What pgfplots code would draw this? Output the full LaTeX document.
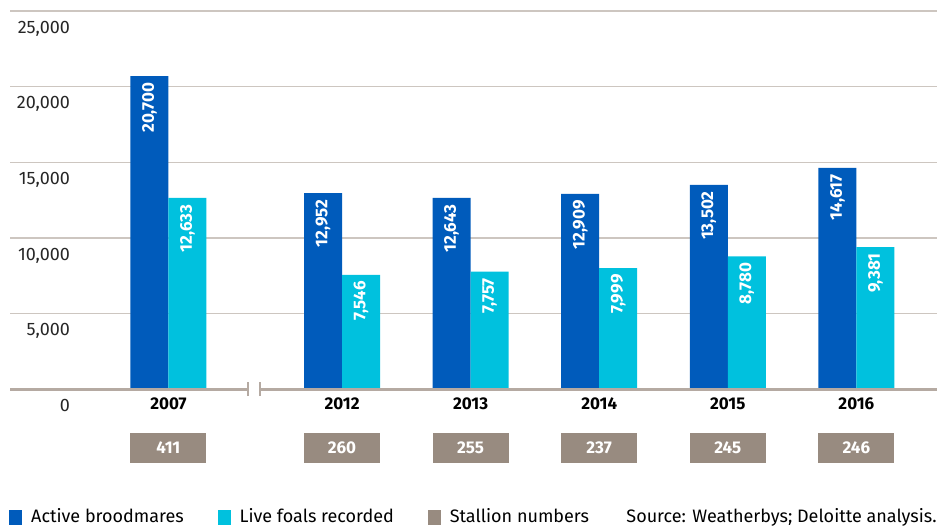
\documentclass[border=0pt]{standalone}
\usepackage{fontspec}
\setmainfont{Fira Sans}
\usepackage{pgfplots}
\pgfplotsset{compat=1.18}
\definecolor{cblue}{RGB}{0,91,187}
\definecolor{ccyan}{RGB}{0,193,222}
\definecolor{cgrey}{RGB}{152,139,128}
\definecolor{cgrid}{RGB}{205,198,192}
\definecolor{czero}{RGB}{181,170,162}
\newcommand\fs{\fontsize{9}{10}\selectfont}
\newcommand\fb{\bfseries\fontsize{8.5}{10}\selectfont}
\begin{document}
\begin{tikzpicture}
\begin{axis}[
  name=ax, at={(0pt,0pt)}, anchor=south west,
  scale only axis, width=463.5pt, height=189pt,
  xmin=-1.582, xmax=5.627, ymin=0, ymax=25000,
  clip=false,
  axis line style={draw=none},
  major tick length=0pt,
  ymajorgrids, grid style={cgrid, line width=0.7pt},
  ytick={0,5000,10000,15000,20000,25000},
  scaled y ticks=false,
  /pgf/number format/1000 sep={,},
  /pgf/number format/assume math mode=true,
  yticklabel style={font=\fs, anchor=north east, xshift=33.5pt, yshift=-1.5pt, text=black!85},
  xtick={-0.35,1,2,3,4,5},
  xticklabels={2007,2012,2013,2014,2015,2016},
  xticklabel style={font=\fb, yshift=-1pt},
  legend style={at={(0,-0.339)}, xshift=-0.5pt, anchor=west, draw=none, fill=none, inner sep=0pt,
    font=\fs, /tikz/every even column/.append style={column sep=15pt}},
  legend columns=3,
  legend cell align=left,
  valnode/.style={nodes near coords,
    every node near coord/.append style={font=\fb, text=white, inner sep=0pt, yshift=-3pt, rotate=90, anchor=east}},
]
% Active broodmares (bar centres = category - 0.1478)
\addplot[ybar, forget plot, bar width=19pt, bar shift=0pt, fill=cblue, draw=none, valnode]
  coordinates {(-0.4978,20700) (0.8522,12952) (1.8522,12643) (2.8522,12909) (3.8522,13502) (4.8522,14617)};
% Live foals recorded (bar centres = category + 0.1478)
\addplot[ybar, forget plot, bar width=19pt, bar shift=0pt, fill=ccyan, draw=none, valnode]
  coordinates {(-0.2022,12633) (1.1478,7546) (2.1478,7757) (3.1478,7999) (4.1478,8780) (5.1478,9381)};
% Stallion numbers
\addplot[forget plot, draw=none, mark=none, nodes near coords, point meta=explicit symbolic,
  every node near coord/.style={fill=cgrey, text=white, font=\fb, minimum width=38pt,
    minimum height=15pt, anchor=center, inner sep=0pt}]
  table[meta=label] {
x y label
-0.35 -3902 411
1 -3902 260
2 -3902 255
3 -3902 237
4 -3902 245
5 -3902 246
};
\draw[czero, line width=1.5pt] (axis cs:-1.582,0) -- (axis cs:5.627,0);
\fill[white] ([yshift=-2pt]axis cs:0.269,0) rectangle ([yshift=2pt]axis cs:0.362,0);
\draw[czero, line width=1pt] ([yshift=-3.5pt]axis cs:0.269,0) -- ([yshift=3.5pt]axis cs:0.269,0);
\draw[czero, line width=1pt] ([yshift=-3.5pt]axis cs:0.362,0) -- ([yshift=3.5pt]axis cs:0.362,0);
\addlegendimage{legend image code/.code={\fill[cblue] (0pt,-3.5pt) rectangle (6pt,3.5pt); \path (8.5pt,0pt);}}
\addlegendentry{Active broodmares}
\addlegendimage{legend image code/.code={\fill[ccyan] (0pt,-3.5pt) rectangle (6pt,3.5pt); \path (8.5pt,0pt);}}
\addlegendentry{Live foals recorded}
\addlegendimage{legend image code/.code={\fill[cgrey] (0pt,-3.5pt) rectangle (6pt,3.5pt); \path (8.5pt,0pt);}}
\addlegendentry{Stallion numbers}
\node[anchor=east, font=\fs, inner sep=0pt] at (rel axis cs:1,-0.339) {Source: Weatherbys; Deloitte analysis.};
\end{axis}
\pgfresetboundingbox
\path[use as bounding box] ([xshift=-5pt,yshift=-69pt]ax.south west) rectangle ++(473.5pt,263.5pt);
\end{tikzpicture}
\end{document}
